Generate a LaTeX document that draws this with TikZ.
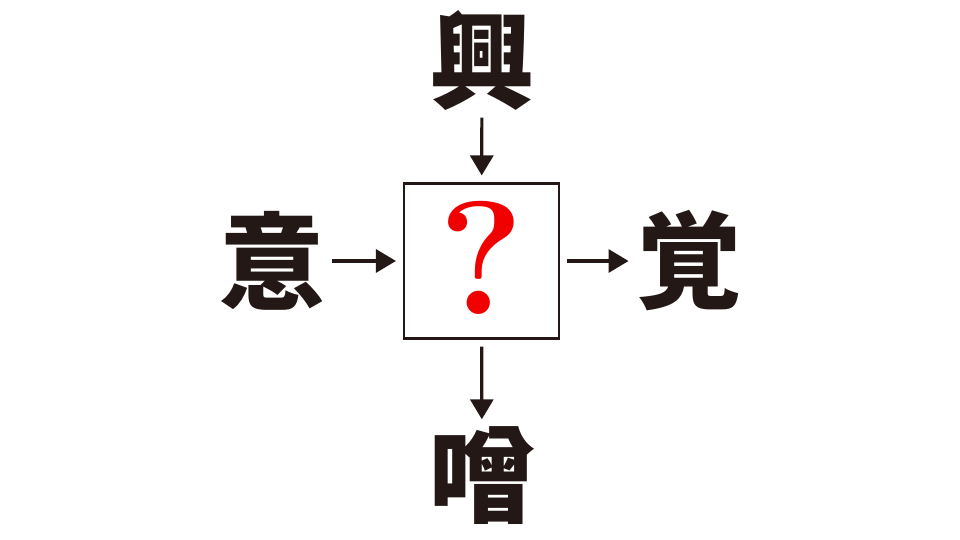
\documentclass[tikz,border=0pt]{standalone}
\usepackage{fontspec}
\usepackage{xcolor}
\usepackage{tikz}
\usetikzlibrary{
  arrows.meta,
  positioning,
}
\newfontfamily\cjk{Noto Sans CJK JP}
\definecolor{inkdark}{HTML}{231815}
\definecolor{qred}{HTML}{F00000}

\begin{document}
\begin{tikzpicture}[
  kanji/.style={font=\cjk\bfseries\fontsize{30}{30}\selectfont, text=inkdark,
    inner sep=0pt, minimum size=0.95cm},
  qbox/.style={draw=inkdark, line width=0.6pt, minimum size=1.55cm, inner sep=0pt},
  arr/.style={-{Triangle[length=0.2cm, width=0.23cm]}, line width=0.9pt,
    draw=inkdark, shorten <=0.07cm, shorten >=0.07cm},
]

\useasboundingbox (0,0) rectangle (9.6,5.4);

\node[qbox] (box) at (4.815,2.79) {};
\node[font=\bfseries\fontsize{46}{46}\selectfont, text=qred] (qmark) at (4.815,2.82) {?};

\node[kanji] (top) at (4.82,4.80) {興};
\node[kanji] (left) at (2.72,2.79) {意};
\node[kanji] (right) at (6.89,2.79) {覚};
\node[kanji] (bottom) at (4.82,0.64) {噌};

\draw[arr] (top) -- (box);
\draw[arr] (left) -- (box);
\draw[arr] (box) -- (right);
\draw[arr] (box) -- (bottom);

\end{tikzpicture}
\end{document}
